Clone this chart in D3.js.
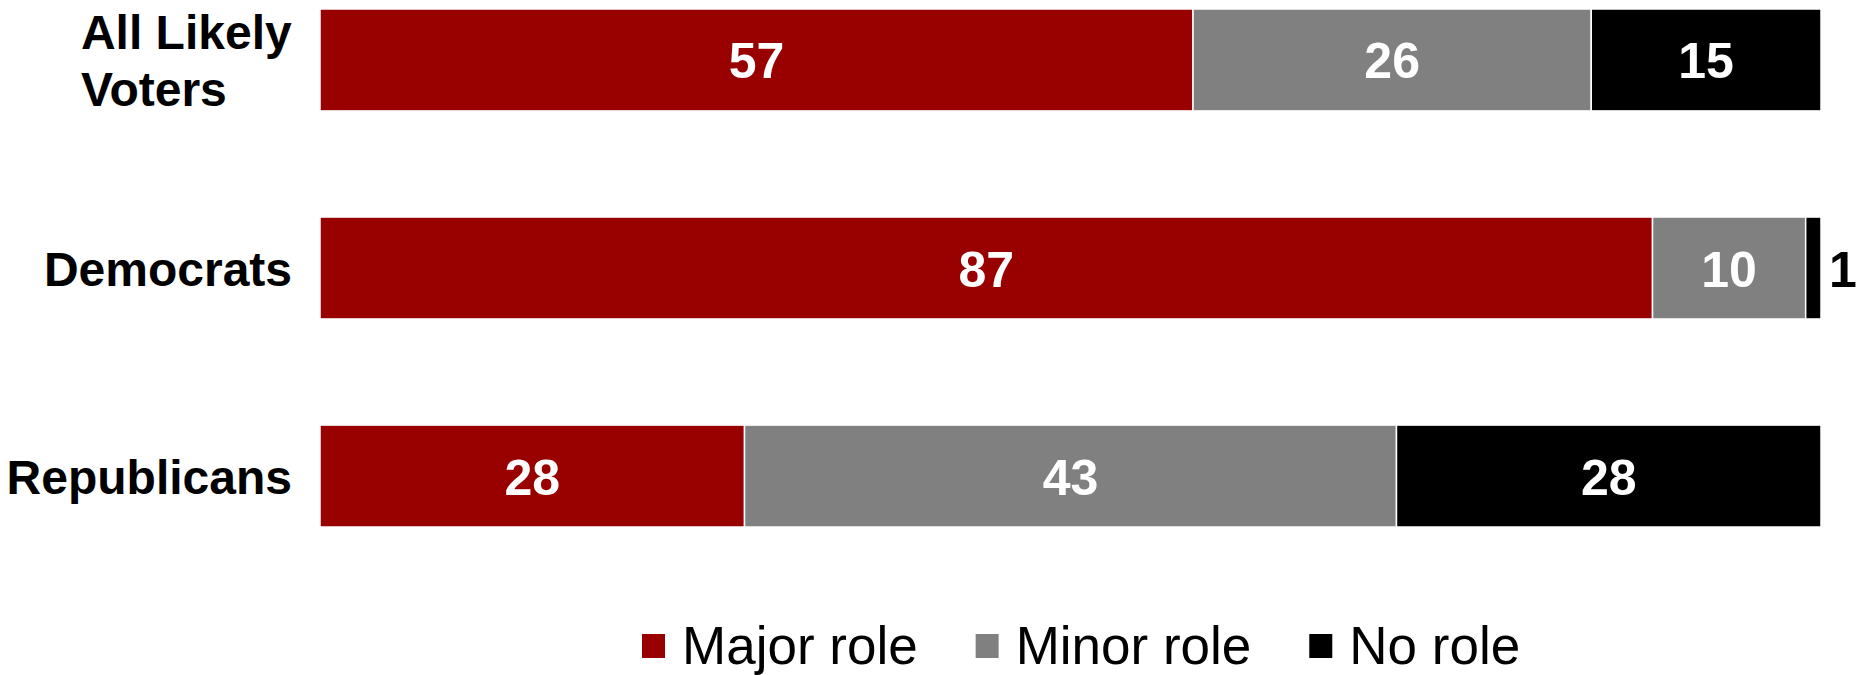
<!DOCTYPE html>
<html>
<head>
<meta charset="utf-8">
<script src="https://cdn.jsdelivr.net/npm/d3@7"></script>
<style>
  body { margin: 0; background: #fff; }
  text { font-family: "Liberation Sans", Arial, sans-serif; }
</style>
</head>
<body>
<svg width="1860" height="675"></svg>
<script>
// data
var categories = ["All Likely Voters", "Democrats", "Republicans"];
var catLines = [["All Likely", "Voters"], ["Democrats"], ["Republicans"]];
var seriesNames = ["Major role", "Minor role", "No role"];
var majorRole = [57, 87, 28];
var minorRole = [26, 10, 43];
var noRole = [15, 1, 28];
var colors = ["#990000", "#808080", "#000000"];

var svg = d3.select("svg");

var rows = categories.map(function(c, i) {
  return { cat: c, "Major role": majorRole[i], "Minor role": minorRole[i], "No role": noRole[i] };
});

// 100% stacked, like the original
var stack = d3.stack().keys(seriesNames).offset(d3.stackOffsetExpand);
var series = stack(rows);

var x = d3.scaleLinear().domain([0, 1]).range([320, 1821]);
var y = d3.scaleBand().domain(categories).range([9, 527]).paddingInner(0.51).paddingOuter(0);
var color = d3.scaleOrdinal().domain(seriesNames).range(colors);

var layer = svg.append("g").selectAll("g")
    .data(series)
    .enter().append("g")
      .attr("fill", function(d) { return color(d.key); });

layer.selectAll("rect")
    .data(function(d) { return d; })
    .enter().append("rect")
      .attr("x", function(d) { return x(d[0]); })
      .attr("y", function(d) { return y(d.data.cat); })
      .attr("width", function(d) { return x(d[1]) - x(d[0]); })
      .attr("height", y.bandwidth())
      .attr("stroke", "#fff")
      .attr("stroke-width", 1.5);

// value labels (white inside, black outside when the segment is too thin)
layer.selectAll("text")
    .data(function(d) { return d.map(function(p) { return { p: p, key: d.key }; }); })
    .enter().append("text")
      .attr("x", function(d) {
        var w = x(d.p[1]) - x(d.p[0]);
        return w < 40 ? x(d.p[1]) + 8 : (x(d.p[0]) + x(d.p[1])) / 2;
      })
      .attr("y", function(d) { return y(d.p.data.cat) + y.bandwidth() / 2; })
      .attr("dy", "0.37em")
      .attr("text-anchor", function(d) { return (x(d.p[1]) - x(d.p[0])) < 40 ? "start" : "middle"; })
      .attr("font-size", 50)
      .attr("font-weight", "bold")
      .attr("fill", function(d) { return (x(d.p[1]) - x(d.p[0])) < 40 ? "#000" : "#fff"; })
      .text(function(d) { return d.p.data[d.key]; });

// category labels
var catG = svg.append("g");
categories.forEach(function(c, i) {
  var lines = catLines[i];
  var t = catG.append("text")
      .attr("font-size", 48)
      .attr("font-weight", "bold")
      .attr("fill", "#000");
  var cy = y(c) + y.bandwidth() / 2;
  var lh = 57;
  lines.forEach(function(l, j) {
    t.append("tspan")
      .attr("x", 0)
      .attr("y", cy + (j - (lines.length - 1) / 2) * lh)
      .attr("dy", "0.37em")
      .text(l);
  });
  var w = t.node().getBBox().width;
  t.selectAll("tspan").attr("x", 292 - w);
});

// legend
var legend = svg.append("g");
var lx = 642;
seriesNames.forEach(function(s) {
  legend.append("rect")
    .attr("x", lx).attr("y", 634)
    .attr("width", 23).attr("height", 24)
    .attr("fill", color(s));
  var t = legend.append("text")
    .attr("x", lx + 40).attr("y", 664)
    .attr("font-size", 53)
    .attr("fill", "#000")
    .text(s);
  lx += 40 + t.node().getComputedTextLength() + 58;
});
</script>
</body>
</html>
